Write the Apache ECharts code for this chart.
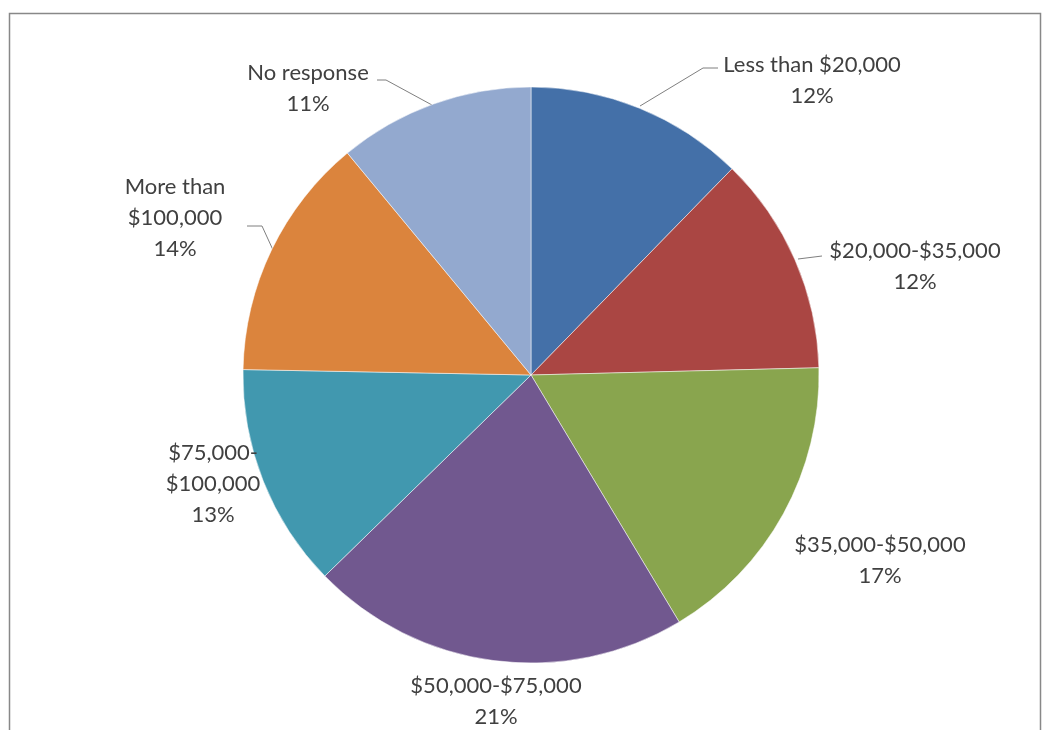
<!DOCTYPE html>
<html>
<head>
<meta charset="utf-8">
<script src="https://cdn.jsdelivr.net/npm/echarts@6/dist/echarts.min.js"></script>
<style>
html,body{margin:0;padding:0;background:#fff;}
#chart{width:1043px;height:730px;}
</style>
</head>
<body>
<div id="chart"></div>
<script>
// Data
var categories = ['Less than $20,000', '$20,000-$35,000', '$35,000-$50,000', '$50,000-$75,000', '$75,000-$100,000', 'More than $100,000', 'No response'];
var labelTexts = ['Less than $20,000', '$20,000-$35,000', '$35,000-$50,000', '$50,000-$75,000', '$75,000-\n$100,000', 'More than\n$100,000', 'No response'];
var values = [12.3, 12.3, 16.8, 21.3, 12.6, 13.7, 11.0];

// Styling
var colors = ['#4470A8', '#AA4643', '#89A54E', '#71588F', '#4198AF', '#DB843D', '#93A9CF'];
var labelPos = [[812, 80], [915, 266], [880, 560], [496, 701], [213, 484], [175, 218], [308, 88]];
var leaderLines = [
  [[640, 106], [703, 68], [718, 68]],
  [[798, 259], [822, 256]],
  null,
  null,
  null,
  [[273, 250], [262, 226], [247, 226]],
  [[432, 105], [386, 80], [377, 80]]
];

var chart = echarts.init(document.getElementById('chart'), null, {renderer: 'canvas'});
var data = categories.map(function (c, i) {
  return {name: c, value: values[i], itemStyle: {color: colors[i]}};
});
chart.setOption({
  animation: false,
  backgroundColor: '#ffffff',
  graphic: [{
    type: 'rect',
    shape: {x: 9.5, y: 13.5, width: 1031, height: 730},
    style: {fill: 'none', stroke: '#888888', lineWidth: 1.5}
  }],
  series: [{
    type: 'pie',
    center: [531, 375],
    radius: 288,
    startAngle: 90,
    clockwise: true,
    percentPrecision: 0,
    data: data,
    itemStyle: {borderColor: 'rgba(255,255,255,0.5)', borderWidth: 1},
    label: {
      show: true,
      position: 'outside',
      formatter: function (p) { return labelTexts[p.dataIndex] + '\n' + p.percent + '%'; },
      fontFamily: 'Lato',
      fontSize: 22,
      lineHeight: 31,
      color: '#404040',
      align: 'center'
    },
    labelLine: {show: true, lineStyle: {color: '#7f7f7f', width: 1}},
    labelLayout: function (params) {
      var i = params.dataIndex;
      var res = {x: labelPos[i][0], y: labelPos[i][1], align: 'center', verticalAlign: 'middle'};
      if (leaderLines[i]) {
        res.labelLinePoints = leaderLines[i];
      } else {
        res.labelLinePoints = [[labelPos[i][0], labelPos[i][1]], [labelPos[i][0], labelPos[i][1]], [labelPos[i][0], labelPos[i][1]]];
      }
      return res;
    }
  }]
});
</script>
</body>
</html>
